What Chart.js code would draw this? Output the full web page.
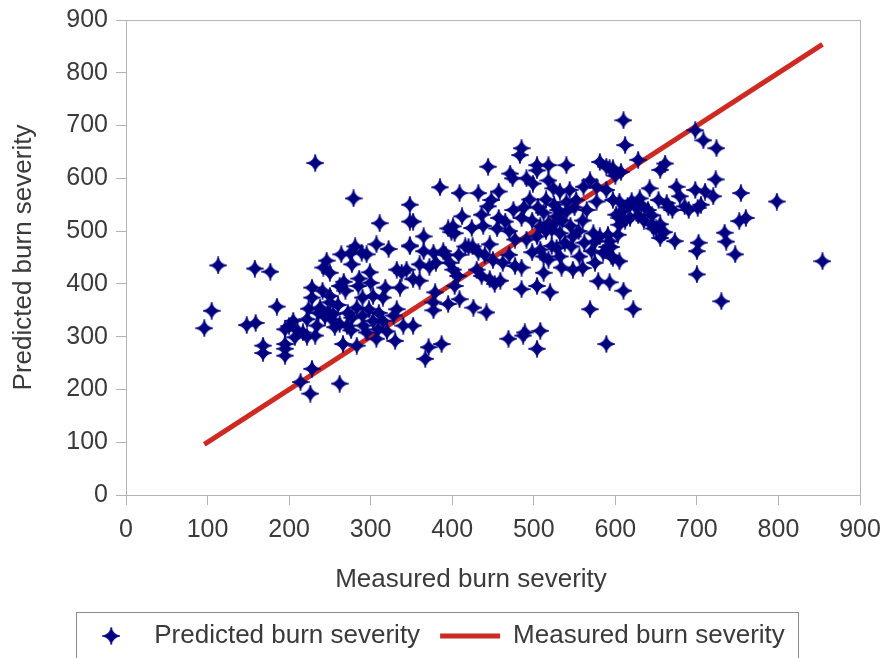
<!DOCTYPE html>
<html>
<head>
<meta charset="utf-8">
<title>Burn severity</title>
<script src="https://cdn.jsdelivr.net/npm/chart.js@4.4.1/dist/chart.umd.min.js"></script>
<style>
  html, body { margin:0; padding:0; background:#fff; }
  #wrap { width:885px; height:658px; }
</style>
</head>
<body>
<div id="wrap"><canvas id="burnChart"></canvas></div>
<script>
/* ---- data: measured vs predicted severity, one pair per plot ---- */
const measured = [
  232,279,311,348,348,348,113,158,177,105, 96,148,159,185,168,168,195,195,195,195,
  205,228,214,226,262,217,232,222,234,228,228,224,241,250,250,238,248,254,246,242,
  250,264,275,289,295,277,281,299,307,322,262,269,267,285,290,303,315,318,283,298,
  277,252,262,271,291,295,266,283,309,315,328,332,330,307,207,332,338,336,200,210,
  222,236,260,286,300,272,244,256,276,310,320,290,303,
  610,612,485,483,444,504,518,540,581,593,385,409,432,457,471,474,491,499,504,518,
  524,532,544,561,569,577,589,352,365,348,365,377,389,360,344,352,360,397,401,407,
  403,412,401,403,416,425,424,436,438,444,448,457,465,475,446,430,436,446,459,452,
  477,477,485,485,504,512,520,491,504,508,512,518,528,532,534,548,546,556,571,585,
  597,579,569,610,589,469,487,489,508,504,377,395,409,426,442,377,352,340,371,387,
  367,379,485,508,518,528,540,522,532,552,565,577,597,601,610,573,581,591,
  455,470,495,505,515,525,535,545,555,560,550,540,530,512,498,488,420,432,440,450,
  462,470,380,372,392,408,522,538,548,562,575,590,560,575,595,498,515,527,395,399,
  628,698,708,724,655,661,589,597,723,675,698,710,720,754,798,679,685,701,760,752,
  734,736,702,700,747,854,700,730,673,655,655,647,642,630,620,632,615,625,653,663,
  605,605,605,603,593,595,605,593,622,618,612,645,650,660,665,670,640,645,628,635,
  690,705,600,607
];
const predicted = [
  629,562,515,550,518,471,435,429,423,349,316,322,326,357,283,269,286,277,264,314,
  330,239,214,192,211,308,302,333,321,393,374,353,387,377,365,355,346,343,444,431,
  421,456,458,459,456,437,471,422,475,466,396,387,404,396,374,377,374,393,355,352,
  336,333,324,321,321,308,286,283,314,330,340,352,292,296,299,427,421,393,320,312,
  300,345,360,410,402,345,338,318,312,345,310,340,330,
  710,663,657,644,622,625,625,625,631,619,583,572,572,575,609,600,600,590,615,596,
  581,575,578,584,596,584,578,518,490,473,462,459,462,437,427,409,406,440,427,415,
  396,528,509,496,471,471,506,531,510,547,559,525,518,540,475,427,415,409,406,400,
  484,434,431,390,396,421,384,484,490,465,452,446,468,452,431,427,471,452,462,459,
  449,405,352,387,286,296,302,308,311,277,365,362,371,355,346,350,321,321,280,286,
  258,384,525,509,515,528,537,503,496,559,540,556,559,531,540,496,490,493,
  505,500,560,545,560,550,520,510,500,520,545,555,540,535,520,545,470,460,455,445,
  440,455,440,432,455,455,472,478,490,478,480,470,430,440,470,460,500,517,505,498,
  635,691,672,657,616,628,622,619,598,584,578,575,566,572,556,566,547,544,525,519,
  497,480,478,462,456,443,418,367,481,487,513,505,581,562,557,550,548,545,559,553,
  556,525,512,493,481,453,443,403,352,525,520,512,505,498,545,540,540,530,530,520,
  540,550,605,612
];
const tickValues = [0, 100, 200, 300, 400, 500, 600, 700, 800, 900];

const scatterLabel = 'Predicted burn severity';
const lineLabel    = 'Measured burn severity';

const navy = '#000080';
const red  = '#cc2a22';
const grey = '#b3b3b3';
const ink  = '#3a3a3a';

// four-pointed star marker, thin concave arms
function makeStar(size, color) {
  const c = document.createElement('canvas');
  c.width = size; c.height = size;
  const g = c.getContext('2d');
  const m = size / 2, r = size / 2 - 0.5, k = 1.4;
  g.beginPath();
  g.moveTo(m, m - r);
  g.quadraticCurveTo(m + k, m - k, m + r, m);
  g.quadraticCurveTo(m + k, m + k, m, m + r);
  g.quadraticCurveTo(m - k, m + k, m - r, m);
  g.quadraticCurveTo(m - k, m - k, m, m - r);
  g.closePath();
  g.fillStyle = color;
  g.fill();
  g.strokeStyle = color;
  g.lineWidth = 1.1;
  g.stroke();
  return c;
}
const star = makeStar(18, navy);

const points  = measured.map((m, i) => ({ x: m, y: predicted[i] }));
const lineEnd = [Math.min(...measured), Math.max(...measured)].map(v => ({ x: v, y: v }));

/* ---- plugins: plot frame, x title, legend box ---- */
const plotFrame = {
  id: 'plotFrame',
  beforeDatasetsDraw(chart) {
    const { ctx, chartArea: a } = chart;
    ctx.save();
    ctx.strokeStyle = grey;
    ctx.lineWidth = 1;
    ctx.strokeRect(Math.round(a.left) + 0.5, Math.round(a.top) + 0.5, Math.round(a.right - a.left), Math.round(a.bottom - a.top));
    ctx.restore();
  }
};

const xTitle = {
  id: 'xTitle',
  afterDraw(chart) {
    const ctx = chart.ctx;
    ctx.save();
    ctx.font = '26px "Liberation Sans", Arial, sans-serif';
    ctx.fillStyle = ink;
    ctx.textAlign = 'center';
    ctx.textBaseline = 'middle';
    ctx.fillText(lineLabel, 471, 580);
    ctx.restore();
  }
};

const legendBox = {
  id: 'legendBox',
  afterDraw(chart) {
    const boxes = chart.legend.legendHitBoxes;
    if (!boxes || !boxes.length) return;
    const last = boxes[boxes.length - 1];
    const left = boxes[0].left - 5;
    const right = last.left + last.width + 13;
    const top = boxes[0].top - 11;
    const ctx = chart.ctx;
    ctx.save();
    ctx.strokeStyle = '#8c8c8c';
    ctx.lineWidth = 1;
    ctx.strokeRect(Math.round(left) + 0.5, Math.round(top) + 0.5, Math.round(right - left), 80);
    ctx.restore();
  }
};

Chart.defaults.font.family = '"Liberation Sans", Arial, sans-serif';
Chart.defaults.font.size = 25;
Chart.defaults.color = ink;

const axisGrid = { display: true, drawOnChartArea: false, drawTicks: true, tickLength: 10, color: grey };

new Chart(document.getElementById('burnChart'), {
  type: 'scatter',
  data: {
    datasets: [
      { label: scatterLabel, data: points, pointStyle: star, pointRadius: 8, borderColor: navy, backgroundColor: navy, borderWidth: 1 },
      { label: lineLabel, type: 'line', data: lineEnd, borderColor: red, backgroundColor: red, borderWidth: 5, pointRadius: 0, pointStyle: 'line', showLine: true, fill: false }
    ]
  },
  options: {
    responsive: true,
    maintainAspectRatio: false,
    animation: false,
    layout: { padding: { left: 6, right: 25, top: 20, bottom: -1 } },
    plugins: {
      tooltip: { enabled: false },
      legend: {
        position: 'bottom',
        labels: { usePointStyle: true, pointStyleWidth: 60, padding: 20, font: { size: 26, lineHeight: 1 }, color: ink }
      }
    },
    scales: {
      x: {
        type: 'linear', min: 0, max: 900,
        afterBuildTicks: s => { s.ticks = tickValues.map(v => ({ value: v })); },
        afterFit: s => { s.height = 108; s.paddingLeft = 0; s.paddingRight = 0; },
        grid: axisGrid,
        border: { display: true, color: grey },
        ticks: { padding: 10, maxRotation: 0, color: ink }
      },
      y: {
        type: 'linear', min: 0, max: 900,
        afterBuildTicks: s => { s.ticks = tickValues.map(v => ({ value: v })); },
        afterFit: s => { s.width = 120; s.paddingTop = 0; s.paddingBottom = 0; },
        grid: axisGrid,
        border: { display: true, color: grey },
        ticks: { padding: 8, color: ink },
        title: { display: true, text: scatterLabel, color: ink, font: { size: 26 }, padding: { top: 2, bottom: 0 } }
      }
    }
  },
  plugins: [plotFrame, xTitle, legendBox]
});
</script>
</body>
</html>
